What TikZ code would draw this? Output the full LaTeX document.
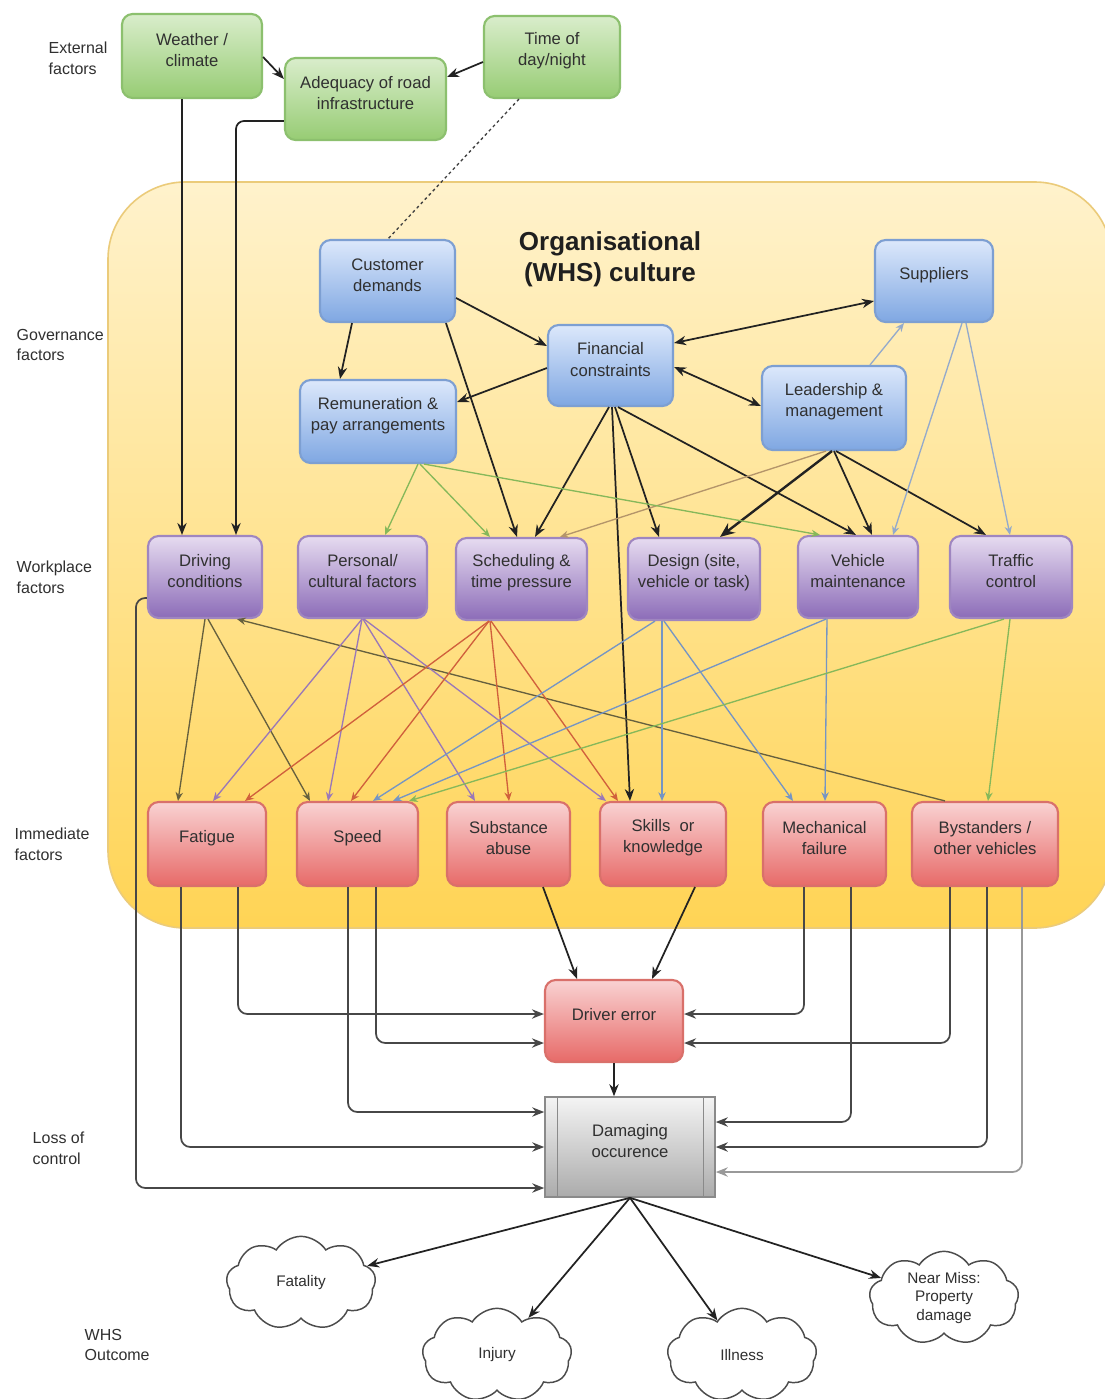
\documentclass[tikz,border=0pt]{standalone}
\usepackage{fontspec}
\setmainfont{Liberation Sans}
\usetikzlibrary{arrows.meta,fit,shapes.symbols,calc}
\definecolor{txt}{HTML}{303030}
\definecolor{gtop}{HTML}{D9EDCB}\definecolor{gbot}{HTML}{97CC74}\definecolor{gbd}{HTML}{8CC06E}
\definecolor{btop}{HTML}{DCE8FB}\definecolor{bbot}{HTML}{7FA7E2}\definecolor{bbd}{HTML}{7D9FD2}
\definecolor{ptop}{HTML}{E6DBF0}\definecolor{pbot}{HTML}{8C6CB8}\definecolor{pbd}{HTML}{9F86C0}
\definecolor{rtop}{HTML}{F9D2D2}\definecolor{rbot}{HTML}{E76A68}\definecolor{rbd}{HTML}{D9706A}
\definecolor{dtop}{HTML}{F4F4F4}\definecolor{dbot}{HTML}{ABABAB}\definecolor{dbd}{HTML}{8A8A8A}
\definecolor{otop}{HTML}{FFF2CC}\definecolor{obot}{HTML}{FFD455}\definecolor{obd}{HTML}{EBCB7A}
\definecolor{blk}{HTML}{222222}
\definecolor{botc}{HTML}{474747}
\definecolor{olivec}{HTML}{66603E}
\definecolor{purpc}{HTML}{9A78B8}
\definecolor{redc}{HTML}{D0603C}
\definecolor{bluec}{HTML}{7595C4}
\definecolor{greenc}{HTML}{86B85A}
\definecolor{tanc}{HTML}{B4956A}
\definecolor{bgc}{HTML}{94AACB}
\begin{document}
\begin{tikzpicture}[x=0.75pt,y=-0.75pt,
  box/.style={draw, rounded corners=8pt, line width=1.6pt, inner sep=0pt, align=center,
    font=\fontsize{12.5}{16}\selectfont, text=txt},
  gbox/.style={box, draw=gbd, top color=gtop, bottom color=gbot},
  bbox/.style={box, draw=bbd, top color=btop, bottom color=bbot},
  pbox/.style={box, draw=pbd, top color=ptop, bottom color=pbot},
  rbox/.style={box, draw=rbd, top color=rtop, bottom color=rbot},
  dbox/.style={box, rounded corners=0pt, line width=1.2pt, draw=dbd, top color=dtop, bottom color=dbot},
  cl/.style={cloud, draw=black!70, fill=white, line width=1.1pt, cloud puffs=9, cloud puff arc=115,
    aspect=1.5, inner sep=0pt, minimum width=112pt, minimum height=70pt, align=center,
    font=\fontsize{11.5}{14}\selectfont, text=txt},
  lbl/.style={anchor=west, align=left, font=\fontsize{12}{15.5}\selectfont, text=txt},
  blka/.style={draw=blk, line width=1.3pt, -{Stealth[length=9pt,width=7pt]}},
  blkb/.style={draw=blk, line width=1.3pt, {Stealth[length=9pt,width=7pt]}-{Stealth[length=9pt,width=7pt]}},
  blkt/.style={draw=blk, line width=1.8pt, -{Stealth[length=11pt,width=9pt]}},
  thin/.style={line width=1pt, -{Stealth[length=6.5pt,width=5.5pt]}},
  bot/.style={draw=botc, line width=1.3pt, rounded corners=7pt, -{Stealth[length=9pt,width=7pt]}}
]
\useasboundingbox (0,0) rectangle (1104,1399);
\fill[white] (0,0) rectangle (1104,1399);
% organisational culture region
\path[draw=obd, line width=1.2pt, top color=otop, bottom color=obot, rounded corners=58pt]
  (108,182) rectangle (1112,928);
\node[font=\bfseries\fontsize{19.5}{23.5}\selectfont, align=center, text=black!88] (title) at (610,259)
  {Organisational\\(WHS) culture};

% left labels
\node[lbl] (lext) at (44,58) {External\\factors};
\node[lbl] (lgov) at (12,345) {Governance\\factors};
\node[lbl] (lwor) at (12,577) {Workplace\\factors};
\node[lbl] (limm) at (10,844) {Immediate\\factors};
\node[lbl] (lloss) at (28,1148) {Loss of\\control};
\node[lbl] (lwhs) at (80,1345) {WHS\\Outcome};

% external
\node[gbox, fit={(122,14)(262,98)}] (wea) {Weather /\\climate};
\node[gbox, fit={(285,58)(446,140)}] (ade) {Adequacy of road\\infrastructure};
\node[gbox, fit={(484,16)(620,98)}] (tim) {Time of\\day/night};

% governance
\node[bbox, fit={(320,240)(455,322)}] (cus) {Customer\\demands};
\node[bbox, fit={(875,240)(993,322)}] (sup) {Suppliers};
\node[bbox, fit={(548,325)(673,406)}] (fin) {Financial\\constraints};
\node[bbox, fit={(762,366)(906,450)}] (lea) {Leadership \&\\management};
\node[bbox, fit={(300,380)(456,463)}] (rem) {Remuneration \&\\pay arrangements};

% workplace
\node[pbox, fit={(148,536)(262,618)}] (drv) {Driving\\conditions};
\node[pbox, fit={(298,536)(427,618)}] (per) {Personal/\\cultural factors};
\node[pbox, fit={(456,538)(587,620)}] (sch) {Scheduling \&\\time pressure};
\node[pbox, fit={(628,538)(760,620)}] (des) {Design (site,\\vehicle or task)};
\node[pbox, fit={(798,536)(918,618)}] (veh) {Vehicle\\maintenance};
\node[pbox, fit={(950,536)(1072,618)}] (tra) {Traffic\\control};

% immediate
\node[rbox, fit={(148,802)(266,886)}] (fat) {Fatigue};
\node[rbox, fit={(297,802)(418,886)}] (spe) {Speed};
\node[rbox, fit={(447,802)(570,886)}] (sub) {Substance\\abuse};
\node[rbox, fit={(600,802)(726,886)}] (ski) {Skills\ \ or\\knowledge};
\node[rbox, fit={(763,802)(886,886)}] (mec) {Mechanical\\failure};
\node[rbox, fit={(912,802)(1058,886)}] (bys) {Bystanders /\\other vehicles};

% loss of control
\node[rbox, fit={(545,980)(683,1062)}] (der) {Driver error};
\node[dbox, fit={(545,1097)(715,1197)}] (dam) {Damaging\\occurence};
\draw[dbd, line width=1pt] ($(dam.north west)+(13,0)$) -- ($(dam.south west)+(13,0)$);
\draw[dbd, line width=1pt] ($(dam.north east)+(-12,0)$) -- ($(dam.south east)+(-12,0)$);

% outcomes
\node[cl] (fata) at (301,1283) {Fatality};
\node[cl] (inj) at (497,1355) {Injury};
\node[cl] (ill) at (742,1355) {Illness};
\node[cl] (near) at (944,1298) {Near Miss:\\Property\\damage};

% ---- external connectors
\draw[blka] (wea.east |- 0,57) -- (ade.west |- 0,79);
\draw[blka] (tim.west |- 0,62) -- (ade.east |- 0,77);
\draw[blka] (wea.south -| 182,0) -- (drv.north -| 182,0);
\draw[blka, rounded corners=6pt] (ade.west |- 0,121) -| (drv.north -| 236,0);
\draw[black!75, line width=1pt, dash pattern=on 2.2pt off 2.2pt] (tim.south -| 519,0) -- (cus.north -| 388,0);

% ---- governance connectors
\draw[blka] (cus.south -| 352,0) -- (rem.north -| 340,0);
\draw[blka] (cus.east |- 0,298) -- (fin.west |- 0,346);
\draw[blka] (cus.south -| 446,0) -- (sch.north -| 517,0);
\draw[blka] (fin.west |- 0,368) -- (rem.east |- 0,402);
\draw[blkb] (fin.east |- 0,343) -- (sup.west |- 0,301);
\draw[blkb] (fin.east |- 0,367) -- (lea.west |- 0,406);
\draw[thin, draw=bgc] (lea.north -| 870,0) -- (sup.south -| 904,0);
\draw[blka] (fin.south -| 609,0) -- (sch.north -| 535,0);
\draw[blka] (fin.south -| 612,0) -- (ski.north -| 630,0);
\draw[blka] (fin.south -| 615,0) -- (des.north -| 659,0);
\draw[blka] (fin.south -| 618,0) -- (veh.north -| 856,0);
\draw[blkt] (lea.south -| 832,0) -- (des.north -| 720,0);
\draw[blka] (lea.south -| 834,0) -- (veh.north -| 872,0);
\draw[blka] (lea.south -| 836,0) -- (tra.north -| 986,0);
\draw[thin, draw=tanc] (lea.south -| 826,0) -- (sch.north -| 560,0);
\draw[thin, draw=bgc] (sup.south -| 962,0) -- (veh.north -| 893,0);
\draw[thin, draw=bgc] (sup.south -| 966,0) -- (tra.north -| 1010,0);
\draw[thin, draw=greenc] (rem.south -| 418,0) -- (per.north -| 385,0);
\draw[thin, draw=greenc] (rem.south -| 420,0) -- (sch.north -| 490,0);
\draw[thin, draw=greenc] (rem.south -| 424,0) -- (veh.north -| 820,0);

% ---- workplace -> immediate
\draw[thin, draw=olivec] (drv.south -| 205,0) -- (fat.north -| 178,0);
\draw[thin, draw=olivec] (drv.south -| 208,0) -- (spe.north -| 310,0);
\draw[thin, draw=olivec] (bys.north -| 945,0) -- (drv.south -| 237,0);
\draw[thin, draw=purpc] (per.south -| 362,0) -- (fat.north -| 213,0);
\draw[thin, draw=purpc] (per.south -| 362,0) -- (spe.north -| 328,0);
\draw[thin, draw=purpc] (per.south -| 363,0) -- (sub.north -| 475,0);
\draw[thin, draw=purpc] (per.south -| 364,0) -- (ski.north -| 606,0);
\draw[thin, draw=redc] (sch.south -| 489,0) -- (fat.north -| 245,0);
\draw[thin, draw=redc] (sch.south -| 489,0) -- (spe.north -| 351,0);
\draw[thin, draw=redc] (sch.south -| 490,0) -- (sub.north -| 509,0);
\draw[thin, draw=redc] (sch.south -| 491,0) -- (ski.north -| 618,0);
\draw[thin, draw=bluec] (des.south -| 655,0) -- (spe.north -| 373,0);
\draw[thin, draw=bluec] (des.south -| 662,0) -- (ski.north -| 662,0);
\draw[thin, draw=bluec] (des.south -| 664,0) -- (mec.north -| 793,0);
\draw[thin, draw=bluec] (veh.south -| 826,0) -- (spe.north -| 393,0);
\draw[thin, draw=bluec] (veh.south -| 827,0) -- (mec.north -| 825,0);
\draw[thin, draw=greenc] (tra.south -| 1004,0) -- (spe.north -| 409,0);
\draw[thin, draw=greenc] (tra.south -| 1010,0) -- (bys.north -| 988,0);

% ---- immediate -> loss of control
\draw[bot] (fat.south -| 238,0) |- (der.west |- 0,1014);
\draw[bot] (fat.south -| 181,0) |- (dam.west |- 0,1147);
\draw[bot] (spe.south -| 376,0) |- (der.west |- 0,1043);
\draw[bot] (spe.south -| 348,0) |- (dam.west |- 0,1112);
\draw[bot] (drv.west |- 0,598) -- ++(-11,0) |- (dam.west |- 0,1188);
\draw[blka] (sub.south -| 543,0) -- (der.north -| 577,0);
\draw[blka] (ski.south -| 695,0) -- (der.north -| 652,0);
\draw[bot] (mec.south -| 804,0) |- (der.east |- 0,1014);
\draw[bot] (mec.south -| 851,0) |- (dam.east |- 0,1122);
\draw[bot] (bys.south -| 950,0) |- (der.east |- 0,1043);
\draw[bot] (bys.south -| 987,0) |- (dam.east |- 0,1147);
\draw[bot, draw=black!40] (bys.south -| 1022,0) |- (dam.east |- 0,1172);
\draw[blka] (der.south -| 614,0) -- (dam.north -| 614,0);

% ---- outcomes
\draw[blka] (dam.south -| 630,0) -- (fata);
\draw[blka] (dam.south -| 630,0) -- (inj);
\draw[blka] (dam.south -| 630,0) -- (ill);
\draw[blka] (dam.south -| 630,0) -- (near);
\end{tikzpicture}
\end{document}
